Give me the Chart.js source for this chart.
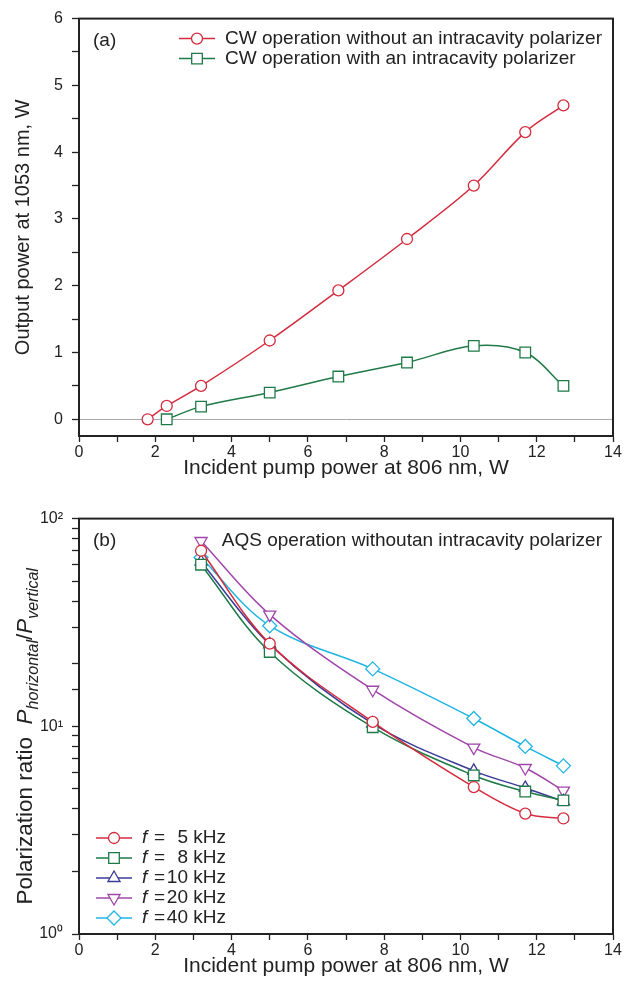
<!DOCTYPE html>
<html>
<head>
<meta charset="utf-8">
<script src="https://cdn.jsdelivr.net/npm/chart.js@4.4.1/dist/chart.umd.min.js"></script>
<style>
  body { margin: 0; background: #fff; }
  .box { position: relative; width: 625px; }
  #topBox { height: 500px; }
  #botBox { height: 496px; }
</style>
</head>
<body>
<div class="box" id="topBox"><canvas id="chartA"></canvas></div>
<div class="box" id="botBox"><canvas id="chartB"></canvas></div>
<script>
// (a) CW output power
const cwPump = [1.8, 2.3, 3.2, 5.0, 6.8, 8.6, 10.35, 11.7, 12.7];
const cwNoPol = [0, 0.2, 0.5, 1.18, 1.93, 2.7, 3.5, 4.3, 4.7];
const cwPumpPol = [2.3, 3.2, 5.0, 6.8, 8.6, 10.35, 11.7, 12.7];
const cwWithPol = [0, 0.19, 0.4, 0.64, 0.85, 1.1, 1.0, 0.5];

// (b) AQS polarization ratio
const aqsPump = [3.2, 5.0, 7.7, 10.35, 11.7, 12.7];
const freqs = [5, 8, 10, 20, 40];
const ratio5 = [70, 25, 10.5, 5.1, 3.8, 3.6];
const ratio8 = [60, 22.8, 9.9, 5.8, 4.85, 4.4];
const ratio10 = [62, 24.8, 10.3, 6.1, 5.05, 4.35];
const ratio20 = [78, 34.5, 15, 7.9, 6.3, 4.9];
const ratio40 = [65, 30.5, 18.9, 10.9, 8.0, 6.45];

const xTicksTop = [0, 2, 4, 6, 8, 10, 12, 14];
const logLabels = {1: '10⁰', 10: '10¹', 100: '10²'};

const FONT = "'Liberation Sans', Arial, Helvetica, sans-serif";
const INK = '#222';
const RED = '#d42b3d', GREEN = '#1f7a48', BLUE = '#3b3c98', PURPLE = '#a046aa', CYAN = '#1fb5e3';

Chart.defaults.font.family = FONT;
Chart.defaults.color = INK;

function pts(xs, ys) {
    return xs.map((x, i) => ({x: x, y: ys[i]}));
}

function series(label, xs, ys, color, style, radius, rotation) {
    return {
        label: label,
        data: pts(xs, ys),
        borderColor: color,
        backgroundColor: '#fff',
        borderWidth: 1.5,
        pointStyle: style,
        pointRadius: radius,
        pointRotation: rotation || 0,
        pointBorderWidth: 1.3,
        pointBackgroundColor: '#fff',
        pointBorderColor: color,
        tension: 0.35,
        fill: false,
    };
}

// frame, panel letter, notes and legends drawn inside the plot
const decor = {
    id: 'decor',
    afterDatasetsDraw(chart, args, opts) {
        const ctx = chart.ctx;
        const a = chart.chartArea;
        ctx.save();
        ctx.strokeStyle = INK;
        ctx.lineWidth = 2;
        ctx.strokeRect(a.left, a.top, a.right - a.left, a.bottom - a.top);

        ctx.fillStyle = INK;
        ctx.font = '19px ' + FONT;
        ctx.textBaseline = 'middle';
        ctx.textAlign = 'left';
        ctx.fillText(opts.panel, a.left + 14, a.top + 22);
        if (opts.note) {
            ctx.textAlign = 'right';
            ctx.fillText(opts.note, a.right - 11, a.top + 22);
        }

        const lg = opts.legend;
        chart.data.datasets.forEach((ds, i) => {
            const x0 = a.left + lg.x;
            const y = lg.fromBottom ? a.bottom - lg.y + i * lg.dy : a.top + lg.y + i * lg.dy;
            ctx.strokeStyle = ds.borderColor;
            ctx.lineWidth = 1.5;
            ctx.beginPath();
            ctx.moveTo(x0, y);
            ctx.lineTo(x0 + 36, y);
            ctx.stroke();
            ctx.fillStyle = '#fff';
            ctx.lineWidth = 1.3;
            Chart.helpers.drawPoint(ctx, {
                pointStyle: ds.pointStyle,
                radius: ds.pointRadius,
                rotation: ds.pointRotation,
                borderWidth: 1.3
            }, x0 + 18, y);
            ctx.fillStyle = INK;
            ctx.textAlign = 'left';
            const tx = x0 + 46;
            if (lg.freq) {
                ctx.font = 'italic 19px ' + FONT;
                ctx.fillText('f', tx, y);
                ctx.font = '19px ' + FONT;
                ctx.fillText('=', tx + 12, y);
                ctx.textAlign = 'right';
                ctx.fillText(String(freqs[i]), tx + 46, y);
                ctx.textAlign = 'left';
                ctx.fillText(' kHz', tx + 46, y);
            } else {
                ctx.font = '19px ' + FONT;
                ctx.fillText(ds.label, tx, y);
            }
        });

        if (opts.ratioTitle) {
            const segs = [
                {t: 'Polarization ratio  ', f: '22.5px ', dy: 0},
                {t: 'P', f: 'italic 22.5px ', dy: 0},
                {t: 'horizontal', f: 'italic 16px ', dy: 6},
                {t: '/', f: '22.5px ', dy: 0},
                {t: 'P', f: 'italic 22.5px ', dy: 0},
                {t: 'vertical', f: 'italic 16px ', dy: 6},
            ];
            let total = 0;
            segs.forEach(s => { ctx.font = s.f + FONT; s.w = ctx.measureText(s.t).width; total += s.w; });
            ctx.translate(24, (a.top + a.bottom) / 2 + 10);
            ctx.rotate(-Math.PI / 2);
            ctx.textAlign = 'left';
            ctx.textBaseline = 'alphabetic';
            ctx.fillStyle = INK;
            let cx = -total / 2;
            segs.forEach(s => {
                ctx.font = s.f + FONT;
                ctx.fillText(s.t, cx, 8 + s.dy);
                cx += s.w;
            });
        }
        ctx.restore();
    }
};

function xAxis() {
    return {
        type: 'linear',
        min: 0,
        max: 14,
        afterFit: (s) => { s.height = 45; },
        ticks: {
            stepSize: 1,
            autoSkip: false,
            maxRotation: 0,
            padding: 1,
            font: {size: 16},
            color: INK,
            callback: (v) => xTicksTop.includes(v) ? String(v) : ''
        },
        grid: {drawOnChartArea: false, tickLength: 6, tickColor: INK, tickWidth: 1.3},
        border: {display: true, color: INK, width: 2},
        title: {
            display: true,
            text: 'Incident pump power at 806 nm, W',
            font: {size: 21},
            color: INK,
            padding: {top: 0, bottom: 0}
        }
    };
}

const configA = {
    type: 'line',
    data: {
        datasets: [
            series('CW operation without an intracavity polarizer', cwPump, cwNoPol, RED, 'circle', 5.5),
            series('CW operation with an intracavity polarizer', cwPumpPol, cwWithPol, GREEN, 'rect', 7.5),
        ]
    },
    options: {
        responsive: true,
        maintainAspectRatio: false,
        animation: false,
        layout: {padding: {top: 15, right: 12, bottom: 19, left: 0}},
        plugins: {
            legend: {display: false},
            tooltip: {enabled: false},
            decor: {panel: '(a)', legend: {x: 100, y: 20, dy: 20}}
        },
        scales: {
            x: xAxis(),
            y: {
                type: 'linear',
                min: -0.25,
                max: 6,
                afterFit: (s) => { s.width = 79; },
                ticks: {
                    stepSize: 0.5,
                    includeBounds: false,
                    autoSkip: false,
                    padding: 9,
                    font: {size: 16},
                    color: INK,
                    callback: (v) => Number.isInteger(v) ? String(v) : ''
                },
                grid: {
                    drawOnChartArea: true,
                    tickLength: 7,
                    tickWidth: 1.3,
                    tickColor: INK,
                    lineWidth: 1,
                    color: (c) => c.tick && c.tick.value === 0 ? '#a8a8a8' : 'rgba(0,0,0,0)'
                },
                border: {display: true, color: INK, width: 2},
                title: {
                    display: true,
                    text: 'Output power at 1053 nm, W',
                    font: {size: 20},
                    color: INK,
                    padding: {top: 11, bottom: 0}
                }
            }
        }
    },
    plugins: [decor]
};

const configB = {
    type: 'line',
    data: {
        datasets: [
            series('f = 5 kHz', aqsPump, ratio5, RED, 'circle', 5.5),
            series('f = 8 kHz', aqsPump, ratio8, GREEN, 'rect', 7.5),
            series('f = 10 kHz', aqsPump, ratio10, BLUE, 'triangle', 7),
            series('f = 20 kHz', aqsPump, ratio20, PURPLE, 'triangle', 7, 180),
            series('f = 40 kHz', aqsPump, ratio40, CYAN, 'rectRot', 7),
        ]
    },
    options: {
        responsive: true,
        maintainAspectRatio: false,
        animation: false,
        layout: {padding: {top: 14, right: 12, bottom: 17, left: 0}},
        plugins: {
            legend: {display: false},
            tooltip: {enabled: false},
            decor: {
                panel: '(b)',
                note: 'AQS operation withoutan intracavity polarizer',
                legend: {x: 17, y: 96, dy: 20, fromBottom: true, freq: true},
                ratioTitle: true
            }
        },
        scales: {
            x: xAxis(),
            y: {
                type: 'logarithmic',
                min: 1,
                max: 100,
                afterFit: (s) => { s.width = 79; },
                ticks: {
                    autoSkip: false,
                    padding: 9,
                    font: {size: 16},
                    color: INK,
                    callback: (v) => logLabels[v] || ''
                },
                grid: {drawOnChartArea: false, tickLength: 7, tickWidth: 1.3, tickColor: INK},
                border: {display: true, color: INK, width: 2}
            }
        }
    },
    plugins: [decor]
};

const chartA = new Chart(document.getElementById('chartA'), configA);
const chartB = new Chart(document.getElementById('chartB'), configB);
</script>
</body>
</html>
